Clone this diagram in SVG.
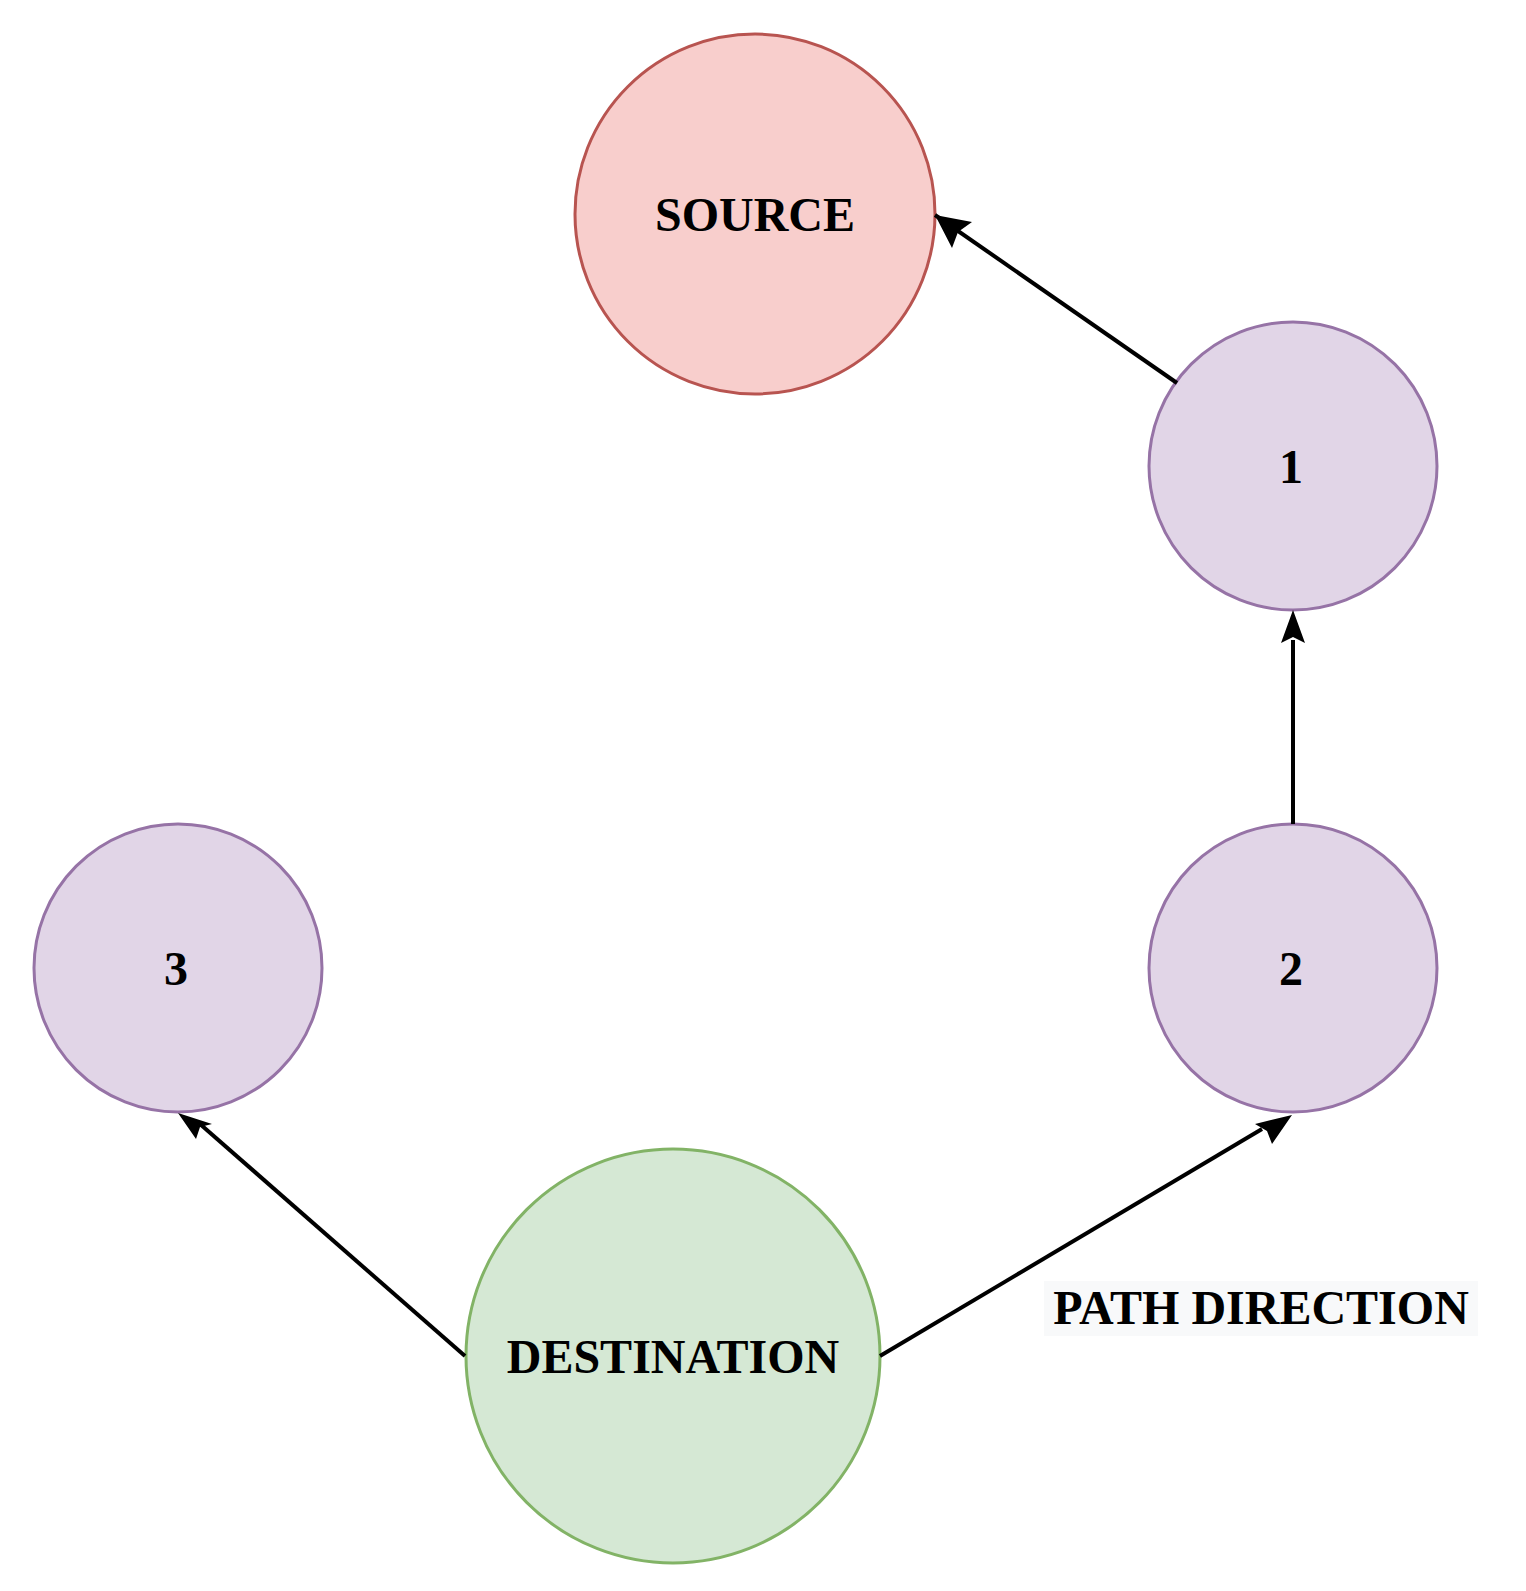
<svg xmlns="http://www.w3.org/2000/svg" width="1526" height="1591" viewBox="0 0 1526 1591">
<style>
text{font-family:"Liberation Serif","Times New Roman",serif;font-weight:bold;font-size:48px;text-anchor:middle;fill:#000}
.p{fill:#e1d5e7;stroke:#9673a6;stroke-width:3}
.e{stroke:#000;stroke-width:4;fill:none;marker-end:url(#ah)}
</style>
<defs><marker id="ah" markerWidth="10" markerHeight="10" refX="8" refY="5" orient="auto" markerUnits="userSpaceOnUse" viewBox="0 0 10 10"><path d="M0,0 L10,5 L0,10 L2.5,5 Z" fill="#000"/></marker></defs>
<rect width="1526" height="1591" fill="#fff"/>
<g id="source"><circle cx="755" cy="214" r="180" fill="#f8cecc" stroke="#b85450" stroke-width="3"/><text x="755" y="231">SOURCE</text></g>
<g id="n1"><circle class="p" cx="1293" cy="466" r="144"/><text x="1291" y="483">1</text></g>
<g id="n2"><circle class="p" cx="1293" cy="968" r="144"/><text x="1291" y="985">2</text></g>
<g id="n3"><circle class="p" cx="178" cy="968" r="144"/><text x="176" y="985">3</text></g>
<g id="dest"><circle cx="673" cy="1356" r="207" fill="#d5e8d4" stroke="#82b366" stroke-width="3"/><text x="673" y="1373">DESTINATION</text></g>
<g id="label"><rect x="1044" y="1281" width="434" height="55" fill="#f8f9fa"/><text x="1261" y="1324">PATH DIRECTION</text></g>
<g id="edges">
<path class="e" d="M1177,383 L935,215" style="marker-end:none"/>
<path d="M935,215 L972,222 L958,232 L952,248 Z" fill="#000"/>
<path d="M1293,824 L1293,640" stroke="#000" stroke-width="4"/>
<path d="M1293,610 L1305,643 L1293,637 L1281,643 Z" fill="#000"/>
<path d="M880,1356 L1262,1129" stroke="#000" stroke-width="4"/>
<path d="M1292,1115 L1272,1144 L1267,1131 L1255,1124 Z" fill="#000"/>
<path d="M465,1356 L200,1124" stroke="#000" stroke-width="4"/>
<path d="M178,1113 L212,1124 L200,1127 L196,1139 Z" fill="#000"/>
</g>
</svg>
